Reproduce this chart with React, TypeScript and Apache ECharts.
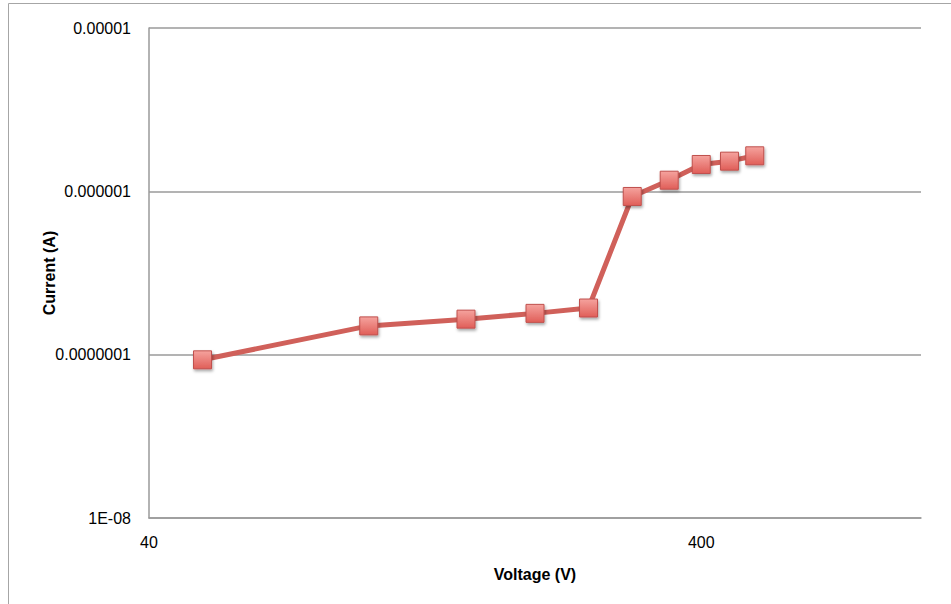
import React, { useEffect, useRef } from "react";
import * as echarts from "echarts";

// Data
const voltages = [50, 100, 150, 200, 250, 300, 350, 400, 450, 500];
const currents = [9.3e-8, 1.5e-7, 1.65e-7, 1.79e-7, 1.93e-7, 9.3e-7, 1.17e-6, 1.46e-6, 1.53e-6, 1.65e-6];
const xMin = 40;
const xMax = 1000;
const yTickLabels: Record<string, string> = {
  "-8": "1E-08",
  "-7": "0.0000001",
  "-6": "0.000001",
  "-5": "0.00001",
};
const xTitle = "Voltage (V)";
const yTitle = "Current (A)";

const FONT = "'Liberation Sans', Arial, sans-serif";

export default function App() {
  const ref = useRef<HTMLDivElement>(null);
  useEffect(() => {
    if (!ref.current) return;
    const chart = echarts.init(ref.current, undefined, { renderer: "svg" });
    // x axis is logarithmic, counted in decades from xMin so ticks fall on 40, 400
    const xData = voltages.map((v, i) => [Math.log10(v / xMin), currents[i]]);
    chart.setOption({
      animation: false,
      backgroundColor: "#fff",
      textStyle: { fontFamily: FONT },
      graphic: [
        {
          type: "rect",
          shape: { x: 8.5, y: 3.5, width: 1000, height: 700 },
          style: { fill: "none", stroke: "#a6a6a6", lineWidth: 1 },
          silent: true,
          z: -1,
        },
      ],
      grid: { left: 149, top: 28, width: 772, height: 490, containLabel: false },
      xAxis: {
        type: "value",
        min: 0,
        max: Math.log10(xMax / xMin),
        interval: 1,
        name: xTitle,
        nameLocation: "middle",
        nameGap: 48,
        nameMoveOverlap: false,
        nameTextStyle: { fontFamily: FONT, fontSize: 16, fontWeight: "bold", color: "#000" },
        axisLine: { show: true, lineStyle: { color: "#9a9a9a", width: 1.5 } },
        axisTick: { show: false },
        splitLine: { show: false },
        axisLabel: {
          showMaxLabel: false,
          margin: 16,
          fontSize: 16,
          color: "#000",
          fontFamily: FONT,
          formatter: (v: number) =>
            Math.abs(v - Math.round(v)) < 1e-6 ? String(Math.round(xMin * Math.pow(10, Math.round(v)))) : "",
        },
      },
      yAxis: {
        type: "log",
        logBase: 10,
        min: 1e-8,
        max: 1e-5,
        name: yTitle,
        nameLocation: "middle",
        nameGap: 92,
        nameRotate: 90,
        nameMoveOverlap: false,
        nameTextStyle: { fontFamily: FONT, fontSize: 16, fontWeight: "bold", color: "#000" },
        axisLine: { show: true, lineStyle: { color: "#9a9a9a", width: 1.5 } },
        axisTick: { show: false },
        splitLine: { show: true, lineStyle: { color: "#9a9a9a", width: 1.5 } },
        axisLabel: {
          margin: 18,
          fontSize: 16,
          color: "#000",
          fontFamily: FONT,
          formatter: (v: number) => yTickLabels[String(Math.round(Math.log10(v)))] ?? "",
        },
      },
      series: [
        {
          type: "line",
          data: xData,
          symbol: "rect",
          symbolSize: 18,
          lineStyle: { color: "#d0605a", width: 5 },
          itemStyle: {
            color: new echarts.graphic.LinearGradient(0, 0, 0, 1, [
              { offset: 0, color: "#f5a39e" },
              { offset: 1, color: "#e05e58" },
            ]),
            borderColor: "#c0504d",
            borderWidth: 1,
            shadowBlur: 3,
            shadowColor: "rgba(0,0,0,0.35)",
            shadowOffsetX: 1,
            shadowOffsetY: 2,
          },
        },
      ],
    });
    return () => chart.dispose();
  }, []);
  return (
    <div
      ref={ref}
      style={{ position: "fixed", left: 0, top: 0, width: 951, height: 604, background: "#fff" }}
    />
  );
}
